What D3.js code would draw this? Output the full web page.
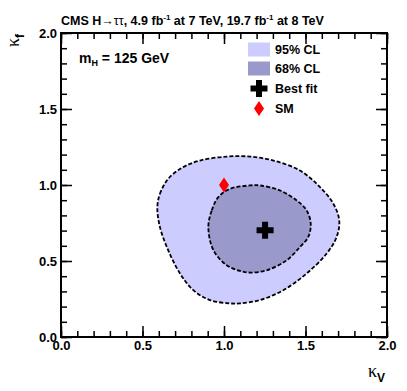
<!DOCTYPE html>
<html>
<head>
<meta charset="utf-8">
<script src="https://cdn.jsdelivr.net/npm/d3@7"></script>
<style>
  body { margin: 0; background: #fff; }
  svg text { font-family: "Liberation Sans", Arial, sans-serif; font-weight: bold; }
  .greek { font-family: "Liberation Serif", "DejaVu Serif", serif; font-weight: normal; }
</style>
</head>
<body>
<div class="chart"></div>
<script>
// contour points [kappaV, kappaF]
var contour95 = [
  [0.591, 0.854], [0.607, 0.942], [0.658, 1.041], [0.748, 1.117], [0.853, 1.161],
  [1.017, 1.187], [1.160, 1.187], [1.302, 1.161], [1.466, 1.095], [1.589, 0.986],
  [1.671, 0.877], [1.707, 0.767], [1.691, 0.658], [1.630, 0.549], [1.507, 0.418],
  [1.364, 0.308], [1.221, 0.243], [1.098, 0.221], [1.037, 0.221], [0.914, 0.243],
  [0.812, 0.308], [0.730, 0.418], [0.658, 0.570], [0.607, 0.723]
];
var contour68 = [
  [0.904, 0.723], [0.925, 0.833], [0.965, 0.920], [1.037, 0.975], [1.160, 0.997],
  [1.221, 0.997], [1.344, 0.964], [1.446, 0.898], [1.507, 0.833], [1.532, 0.746],
  [1.517, 0.658], [1.466, 0.592], [1.385, 0.505], [1.262, 0.439], [1.160, 0.424],
  [1.098, 0.435], [1.017, 0.472], [0.935, 0.571]
];
var bestFit = [1.252, 0.702];
var smPoint = [1.0, 1.0];
var majorTicks = [0, 0.5, 1.0, 1.5, 2.0];
var minorTicks = d3.range(0, 2.001, 0.1);
var legendLabels = ["95% CL", "68% CL", "Best fit", "SM"];

var W = 407, H = 391;
var svg = d3.select(".chart").append("svg")
  .attr("width", W).attr("height", H);

var x = d3.scaleLinear().domain([0, 2]).range([61, 387]);
var y = d3.scaleLinear().domain([0, 2]).range([337, 33]);

var line = d3.line()
  .x(function(d) { return x(d[0]); })
  .y(function(d) { return y(d[1]); })
  .curve(d3.curveCatmullRomClosed.alpha(0.5));

svg.append("path").datum(contour95)
  .attr("d", line)
  .attr("fill", "#ccccff")
  .attr("stroke", "#000").attr("stroke-width", 1.8)
  .attr("stroke-dasharray", "4,2");

svg.append("path").datum(contour68)
  .attr("d", line)
  .attr("fill", "#9999cc")
  .attr("stroke", "#000").attr("stroke-width", 1.8)
  .attr("stroke-dasharray", "4,2");

function crossPath(cx, cy, a, t) {
  // plus sign with arm half-length a and half-thickness t
  return "M" + (cx - t) + "," + (cy - a) + "H" + (cx + t) + "V" + (cy - t) +
    "H" + (cx + a) + "V" + (cy + t) + "H" + (cx + t) + "V" + (cy + a) +
    "H" + (cx - t) + "V" + (cy + t) + "H" + (cx - a) + "V" + (cy - t) +
    "H" + (cx - t) + "Z";
}
function diamondPath(cx, cy, w, h) {
  return "M" + cx + "," + (cy - h) + "L" + (cx + w) + "," + cy +
    "L" + cx + "," + (cy + h) + "L" + (cx - w) + "," + cy + "Z";
}

svg.append("path")
  .attr("d", crossPath(x(bestFit[0]), y(bestFit[1]), 8.5, 3))
  .attr("fill", "#000");

svg.append("path")
  .attr("d", diamondPath(x(smPoint[0]), y(smPoint[1]), 5, 7.5))
  .attr("fill", "#ff0000");

// axes: ticks point inward, on all four sides
function addAxis(axisFn, scale, ticks, size, tx, ty, labels) {
  var ax = axisFn(scale).tickValues(ticks).tickSizeInner(size).tickSizeOuter(0)
    .tickPadding(4)
    .tickFormat(labels ? d3.format(".1f") : "");
  var g = svg.append("g").attr("transform", "translate(" + tx + "," + ty + ")").call(ax);
  g.select(".domain").remove();
  g.selectAll("line").attr("stroke", "#000").attr("stroke-width", 1.5);
  g.selectAll("text").attr("font-size", 13).attr("fill", "#000");
  return g;
}
addAxis(d3.axisBottom, x, minorTicks, -6, 0, 337, false);
addAxis(d3.axisBottom, x, majorTicks, -11, 0, 337, true);
addAxis(d3.axisTop, x, minorTicks, -6, 0, 33, false);
addAxis(d3.axisTop, x, majorTicks, -11, 0, 33, false);
addAxis(d3.axisLeft, y, minorTicks, -6, 61, 0, false);
addAxis(d3.axisLeft, y, majorTicks, -11, 61, 0, true);
addAxis(d3.axisRight, y, minorTicks, -6, 387, 0, false);
addAxis(d3.axisRight, y, majorTicks, -11, 387, 0, false);

svg.append("rect")
  .attr("x", 61).attr("y", 33).attr("width", 326).attr("height", 304)
  .attr("fill", "none").attr("stroke", "#000").attr("stroke-width", 2);

// axis titles
var xt = svg.append("text").attr("x", 385).attr("y", 377).attr("text-anchor", "end");
xt.append("tspan").attr("class", "greek").attr("font-size", 18).text("κ");
xt.append("tspan").attr("font-size", 12).attr("dy", 5).text("V");

var yt = svg.append("text").attr("transform", "translate(19,34) rotate(-90)")
  .attr("text-anchor", "end");
yt.append("tspan").attr("class", "greek").attr("font-size", 18).text("κ");
yt.append("tspan").attr("font-size", 12).attr("dy", 5).text("f");

// header
var title = svg.append("text").attr("x", 61).attr("y", 25).attr("font-size", 12.5);
title.append("tspan").text("CMS H");
title.append("tspan").attr("font-weight", "normal").text("\u2192\u03c4\u03c4");
title.append("tspan").text(", 4.9 fb");
title.append("tspan").attr("font-size", 8).attr("dy", -5).text("-1");
title.append("tspan").attr("dy", 5).text(" at 7 TeV, 19.7 fb");
title.append("tspan").attr("font-size", 8).attr("dy", -5).text("-1");
title.append("tspan").attr("dy", 5).text(" at 8 TeV");

var mh = svg.append("text").attr("x", 79).attr("y", 63).attr("font-size", 14);
mh.append("tspan").text("m");
mh.append("tspan").attr("font-size", 9).attr("dy", 3).text("H");
mh.append("tspan").attr("dy", -3).text(" = 125 GeV");

// legend
var legY = [49.5, 68.5, 88.5, 108.5];
svg.append("rect").attr("x", 248).attr("y", legY[0] - 7).attr("width", 22).attr("height", 14)
  .attr("fill", "#ccccff");
svg.append("rect").attr("x", 248).attr("y", legY[1] - 7).attr("width", 22).attr("height", 14)
  .attr("fill", "#9999cc");
svg.append("path").attr("d", crossPath(259, legY[2], 8.5, 3)).attr("fill", "#000");
svg.append("path").attr("d", diamondPath(259, legY[3], 5, 7.5)).attr("fill", "#ff0000");

svg.selectAll(".leg").data(legendLabels).enter().append("text")
  .attr("class", "leg")
  .attr("x", 275)
  .attr("y", function(d, i) { return legY[i] + 4.5; })
  .attr("font-size", 12.5)
  .text(function(d) { return d; });
</script>
</body>
</html>
